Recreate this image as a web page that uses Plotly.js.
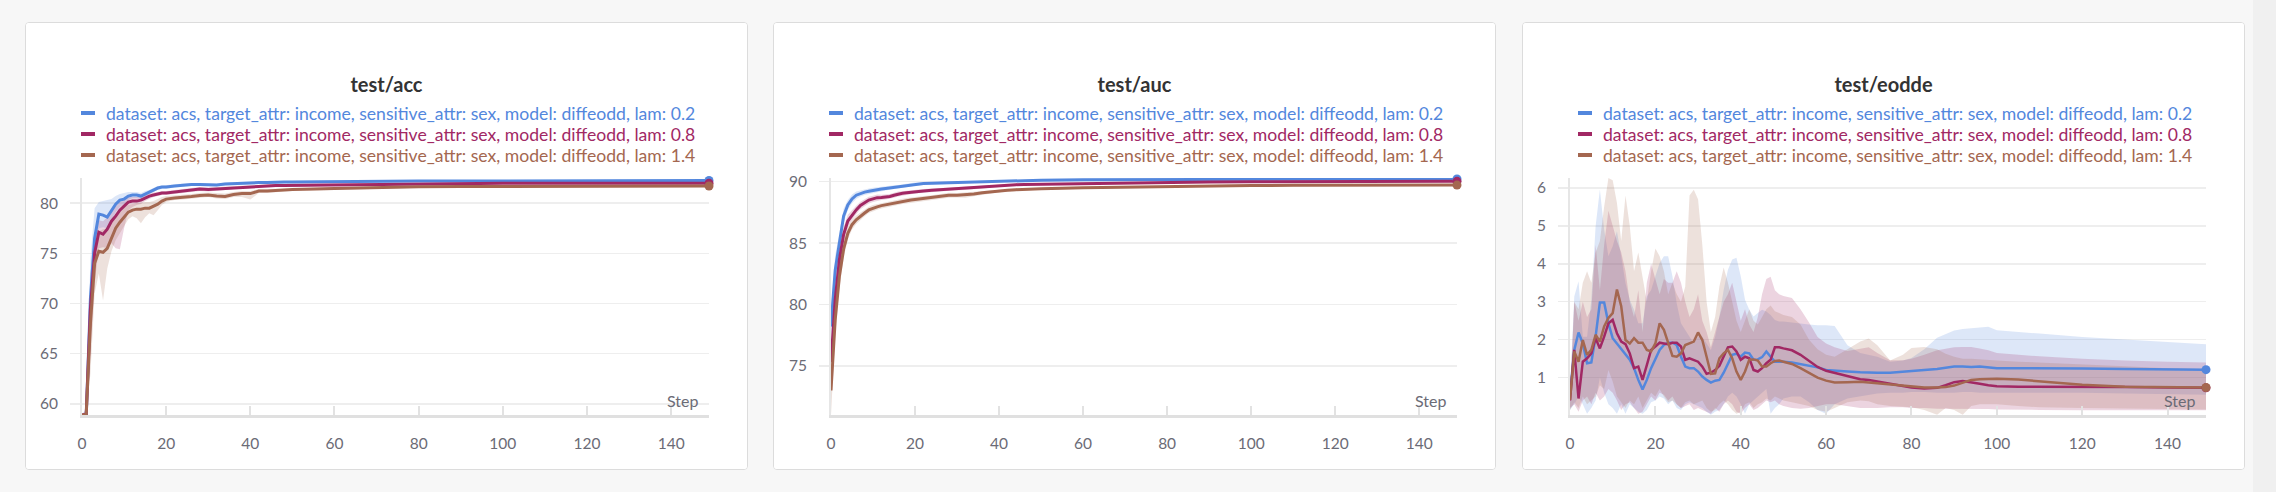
<!DOCTYPE html>
<html>
<head>
<meta charset="utf-8">
<script src="https://cdn.plot.ly/plotly-3.0.1.min.js"></script>
<style>
  html, body { margin: 0; padding: 0; }
  body { width: 2276px; height: 492px; background: #f7f7f7; position: relative; overflow: hidden; }
  .panel {
    position: absolute; top: 22px; width: 721px; height: 446px;
    background: #fff; border: 1px solid #dcdcdc; border-radius: 4px; overflow: hidden;
  }
  .edge { position: absolute; top: 0; left: 2253px; width: 23px; height: 492px; background: #f0f0f0; }
</style>
</head>
<body>
<div class="panel" id="panel-acc" style="left:25px"></div>
<div class="panel" id="panel-auc" style="left:773px"></div>
<div class="panel" id="panel-eodde" style="left:1522px"></div>
<div class="edge"></div>
<script>
// ---- run labels / colours ----
const runLabels = [
  'dataset: acs, target_attr: income, sensitive_attr: sex, model: diffeodd, lam: 0.2',
  'dataset: acs, target_attr: income, sensitive_attr: sex, model: diffeodd, lam: 0.8',
  'dataset: acs, target_attr: income, sensitive_attr: sex, model: diffeodd, lam: 1.4'
];
const runColors = ['#5387DD', '#A12864', '#A46750'];
const runFills = ['rgba(83,135,221,0.2)', 'rgba(161,40,100,0.2)', 'rgba(164,103,80,0.2)'];

// ---- test/acc and test/auc (sampled steps) ----
const curveSteps = [0,1,2,3,4,5,6,7,8,9,10,11,12,13,14,15,16,17,18,19,20,
  22,24,26,28,30,32,34,36,38,40,42,44,46,48,50,
  60,70,80,90,100,110,120,130,140,149];

const accMean02 = [58.6,58.7,70.5,76.5,78.9,78.8,78.6,79.3,79.9,80.3,80.4,80.7,80.8,80.8,80.7,80.9,81.1,81.3,81.5,81.6,81.6,
  81.7,81.8,81.85,81.85,81.8,81.8,81.9,81.95,81.95,82.0,82.05,82.05,82.1,82.1,82.1,
  82.15,82.2,82.2,82.2,82.22,82.23,82.24,82.25,82.25,82.25];
const accLo02 = [58.9,58.9,66.0,73.5,77.5,77.6,77.5,78.3,79.1,79.6,79.9,80.3,80.5,80.5,80.4,80.6,80.9,81.1,81.3,81.4,81.4,
  81.55,81.65,81.7,81.7,81.65,81.65,81.75,81.8,81.82,81.85,81.9,81.92,81.95,81.97,81.98,
  82.05,82.1,82.12,82.13,82.15,82.16,82.17,82.18,82.18,82.18];
const accHi02 = [59.0,59.5,74.5,79.5,80.1,80.2,80.3,80.4,80.7,80.9,81.0,81.1,81.1,81.1,81.0,81.2,81.3,81.5,81.7,81.75,81.8,
  81.85,81.95,82.0,82.0,81.95,81.95,82.05,82.1,82.1,82.15,82.18,82.18,82.22,82.23,82.23,
  82.26,82.3,82.3,82.3,82.3,82.3,82.31,82.32,82.32,82.32];

const accMean08 = [58.9,59.0,69.5,75.0,77.1,76.9,77.4,78.2,78.7,79.3,79.7,80.1,80.2,80.2,80.3,80.5,80.7,80.8,80.9,81.0,81.0,
  81.1,81.2,81.35,81.4,81.35,81.4,81.45,81.55,81.6,81.6,81.7,81.75,81.75,81.75,81.76,
  81.85,81.9,81.95,81.97,81.98,81.98,81.98,81.98,81.98,81.98];
const accLo08 = [58.9,58.9,65.0,72.0,75.5,75.6,75.5,76.0,75.5,75.4,77.5,79.3,79.6,79.8,79.9,80.2,80.4,80.6,80.7,80.8,80.8,
  80.9,81.0,81.15,81.2,81.15,81.2,81.3,81.4,81.45,81.45,81.55,81.6,81.62,81.64,81.65,
  81.75,81.82,81.87,81.9,81.9,81.9,81.9,81.9,81.9,81.9];
const accHi08 = [59.0,59.3,73.0,77.0,78.3,78.2,78.6,79.2,79.7,80.1,80.3,80.6,80.6,80.6,80.6,80.8,80.95,81.05,81.1,81.2,81.2,
  81.3,81.4,81.55,81.6,81.55,81.6,81.65,81.7,81.75,81.75,81.85,81.9,81.9,81.9,81.9,
  81.96,82.0,82.03,82.05,82.06,82.06,82.06,82.06,82.06,82.06];

const accMean14 = [58.9,58.95,68.0,74.0,75.2,75.1,75.5,76.6,77.5,78.1,78.6,79.1,79.3,79.4,79.4,79.5,79.5,79.7,79.9,80.2,80.4,
  80.5,80.55,80.65,80.75,80.8,80.7,80.65,80.85,80.95,80.95,81.2,81.2,81.25,81.3,81.35,
  81.45,81.55,81.62,81.65,81.67,81.68,81.69,81.69,81.7,81.7];
const accLo14 = [58.9,58.9,63.0,71.0,73.0,70.3,73.5,75.2,76.3,77.0,77.6,78.4,78.7,78.5,78.0,78.6,79.0,78.8,79.3,79.8,80.1,
  80.3,80.35,80.45,80.55,80.6,80.45,80.4,80.6,80.6,80.35,81.0,81.0,81.1,81.15,81.2,
  81.33,81.45,81.53,81.57,81.59,81.6,81.61,81.62,81.62,81.62];
const accHi14 = [59.0,59.2,71.0,76.5,77.2,77.4,77.5,78.2,78.9,79.3,79.6,79.8,79.9,80.0,80.0,80.1,80.1,80.2,80.4,80.6,80.7,
  80.75,80.8,80.9,81.0,81.05,81.0,80.95,81.1,81.2,81.2,81.4,81.4,81.42,81.45,81.5,
  81.58,81.66,81.72,81.74,81.76,81.77,81.78,81.78,81.78,81.78];

const aucMean02 = [78.2,82.8,85.0,87.2,88.1,88.6,88.9,89.05,89.15,89.22,89.3,89.35,89.4,89.45,89.5,89.55,89.6,89.65,89.7,89.75,89.8,
  89.85,89.88,89.9,89.92,89.93,89.95,89.98,90.0,90.03,90.05,90.07,90.08,90.1,90.11,90.12,
  90.15,90.17,90.19,90.2,90.2,90.21,90.21,90.22,90.22,90.22];
const aucLo02 = [76.8,81.6,84.2,86.6,87.7,88.25,88.6,88.8,88.92,89.0,89.1,89.17,89.23,89.29,89.34,89.4,89.46,89.51,89.57,89.62,89.67,
  89.74,89.78,89.81,89.84,89.85,89.88,89.91,89.94,89.97,89.99,90.01,90.03,90.05,90.06,90.07,
  90.1,90.12,90.14,90.15,90.15,90.16,90.16,90.17,90.17,90.17];
const aucHi02 = [79.6,84.0,85.8,87.8,88.5,88.95,89.2,89.3,89.38,89.44,89.5,89.53,89.57,89.61,89.66,89.7,89.74,89.79,89.83,89.88,89.93,
  89.96,89.98,89.99,90.0,90.01,90.02,90.05,90.06,90.09,90.11,90.13,90.13,90.15,90.16,90.17,
  90.2,90.22,90.24,90.25,90.25,90.26,90.26,90.27,90.27,90.27];

const aucMean08 = [75.3,80.4,83.65,85.7,86.8,87.3,87.7,88.06,88.3,88.5,88.6,88.7,88.72,88.75,88.8,88.9,89.0,89.05,89.1,89.15,89.2,
  89.25,89.3,89.35,89.4,89.42,89.45,89.5,89.6,89.65,89.7,89.73,89.76,89.78,89.79,89.8,
  89.86,89.92,89.96,89.98,90.0,90.01,90.02,90.02,90.03,90.03];
const aucLo08 = [74.5,79.5,82.9,85.1,86.3,86.9,87.35,87.75,88.0,88.22,88.35,88.45,88.5,88.55,88.6,88.7,88.8,88.87,88.93,88.98,89.03,
  89.1,89.16,89.22,89.28,89.3,89.33,89.39,89.5,89.56,89.62,89.66,89.69,89.71,89.72,89.73,
  89.8,89.86,89.9,89.92,89.94,89.95,89.96,89.96,89.97,89.97];
const aucHi08 = [76.1,81.3,84.4,86.3,87.3,87.7,88.05,88.37,88.6,88.78,88.85,88.95,88.94,88.95,89.0,89.1,89.2,89.23,89.27,89.32,89.37,
  89.4,89.44,89.48,89.52,89.54,89.57,89.61,89.7,89.74,89.78,89.8,89.83,89.85,89.86,89.87,
  89.92,89.98,90.02,90.04,90.06,90.07,90.08,90.08,90.09,90.09];

const aucMean14 = [73.0,78.75,82.3,84.5,85.8,86.5,86.9,87.2,87.45,87.7,87.85,87.95,88.05,88.12,88.2,88.28,88.35,88.4,88.45,88.5,88.55,
  88.63,88.7,88.8,88.9,88.9,88.92,89.0,89.1,89.18,89.25,89.3,89.35,89.38,89.4,89.42,
  89.5,89.56,89.62,89.66,89.68,89.7,89.71,89.72,89.72,89.72];
const aucLo14 = [71.0,77.5,81.3,83.8,85.3,86.1,86.55,86.9,87.18,87.45,87.6,87.72,87.82,87.9,87.98,88.06,88.13,88.18,88.23,88.28,88.33,
  88.42,88.5,88.6,88.7,88.72,88.7,88.82,88.94,89.05,89.13,89.2,89.25,89.29,89.32,89.34,
  89.43,89.5,89.56,89.6,89.62,89.64,89.65,89.66,89.66,89.66];
const aucHi14 = [74.5,79.8,83.2,85.2,86.3,86.9,87.25,87.5,87.72,87.95,88.1,88.18,88.28,88.34,88.42,88.5,88.57,88.62,88.67,88.72,88.77,
  88.84,88.9,89.0,89.1,89.08,89.14,89.18,89.26,89.31,89.37,89.4,89.45,89.47,89.48,89.5,
  89.57,89.62,89.68,89.72,89.74,89.76,89.77,89.78,89.78,89.78];

// ---- test/eodde (every step early, sparser later) ----
const eoddeSteps = [0,1,2,3,4,5,6,7,8,9,10,11,12,13,14,15,16,17,18,19,20,21,22,23,24,25,26,27,28,29,
  30,31,32,33,34,35,36,37,38,39,40,41,42,43,44,45,46,47,48,49,50,
  52,54,56,58,60,62,65,68,70,72,75,78,80,83,86,88,90,92,94,96,98,100,105,110,120,130,140,149];

const eoddeMean02 = [0.55,1.73,2.19,1.90,1.38,1.40,2.08,2.98,2.98,2.43,2.04,1.90,1.77,1.64,1.47,1.25,0.94,0.69,0.94,1.25,
  1.51,1.73,1.86,1.92,1.92,1.86,1.55,1.29,1.25,1.25,1.16,1.03,0.94,0.87,0.92,0.94,1.13,1.38,1.60,1.63,
  1.55,1.66,1.64,1.47,1.48,1.54,1.69,1.55,1.42,1.42,1.42,
  1.40,1.36,1.31,1.27,1.20,1.18,1.16,1.14,1.13,1.13,1.13,1.15,1.17,1.20,1.23,1.26,1.29,1.29,1.28,1.29,1.27,1.25,1.25,1.25,1.24,1.23,1.21,1.21];
const eoddeLo02 = [0.15,0.3,0.5,0.3,0.05,0.2,0.4,1.0,0.6,0.3,0.2,0.05,0.3,0.05,0.3,0.2,0.1,0.05,0.15,0.35,
  0.4,0.5,0.45,0.3,0.4,0.2,0.15,0.3,0.35,0.3,0.25,0.2,0.1,0.02,0.1,0.15,0.3,0.5,0.6,0.5,
  0.3,0.05,0.3,0.4,0.5,0.6,0.7,0.05,0.2,0.3,0.45,
  0.5,0.5,0.35,0.15,0.05,0.3,0.45,0.5,0.55,0.58,0.6,0.6,0.62,0.62,0.6,0.6,0.6,0.62,0.62,0.6,0.6,0.6,0.6,0.6,0.6,0.58,0.56,0.55];
const eoddeHi02 = [0.7,3.14,3.54,2.08,2.08,3.05,4.99,5.96,4.9,4.2,4.46,4.86,4.2,3.49,3.05,2.79,2.43,2.43,3.14,3.31,
  3.67,4.02,4.2,4.2,3.67,2.96,2.43,2.26,2.08,1.9,2.08,2.08,1.9,1.73,2.08,2.61,3.31,3.84,4.11,4.16,
  3.67,3.05,2.79,2.61,2.7,2.79,2.74,2.65,2.52,2.48,2.48,
  2.45,2.42,2.4,2.38,2.38,2.36,1.85,1.65,1.6,1.55,1.42,1.45,1.52,1.75,2.05,2.15,2.24,2.28,2.3,2.33,2.34,2.25,2.2,2.16,2.07,2.0,1.94,1.88];

const eoddeMean08 = [0.40,1.73,0.45,1.42,1.51,1.64,2.04,1.77,2.08,2.43,2.52,2.17,1.95,1.88,1.64,1.25,1.29,0.94,1.33,1.73,
  1.82,1.92,1.90,1.88,1.92,1.92,1.82,1.47,1.51,1.47,1.42,1.29,1.10,1.13,1.20,1.31,1.55,1.80,1.82,1.69,
  1.47,1.55,1.51,1.20,1.16,1.25,1.38,1.47,1.80,1.80,1.77,
  1.72,1.60,1.45,1.28,1.18,1.12,1.03,0.96,0.94,0.90,0.83,0.77,0.74,0.71,0.73,0.80,0.88,0.91,0.88,0.84,0.80,0.77,0.76,0.76,0.75,0.75,0.74,0.73];
const eoddeLo08 = [0.2,0.3,0.1,0.4,0.5,0.3,0.6,0.4,0.5,0.7,0.6,0.4,0.15,0.3,0.35,0.2,0.05,0.1,0.3,0.5,
  0.4,0.6,0.55,0.4,0.5,0.3,0.2,0.25,0.3,0.15,0.2,0.15,0.1,0.05,0.2,0.1,0.3,0.4,0.3,0.1,
  0.05,0.2,0.3,0.15,0.2,0.3,0.4,0.35,0.4,0.3,0.25,
  0.2,0.18,0.2,0.25,0.3,0.3,0.25,0.2,0.2,0.2,0.22,0.22,0.2,0.2,0.18,0.18,0.18,0.18,0.17,0.17,0.17,0.16,0.15,0.15,0.14,0.14,0.14,0.14];
const eoddeHi08 = [0.5,3.0,2.5,3.0,2.6,2.8,4.5,3.3,4.5,5.4,5.0,4.6,4.3,3.8,3.0,2.6,3.3,2.2,3.5,4.0,
  3.6,3.2,3.6,3.5,3.5,3.8,3.5,3.0,2.6,2.8,3.2,2.5,2.2,1.8,2.2,2.6,3.0,3.2,3.5,3.0,
  2.5,2.8,2.4,2.2,2.6,3.2,3.6,3.66,3.3,3.2,3.15,
  3.1,2.8,2.45,2.07,1.9,1.8,1.7,1.75,1.8,1.65,1.46,1.46,1.5,1.6,1.72,1.76,1.8,1.81,1.81,1.77,1.72,1.65,1.6,1.56,1.5,1.45,1.42,1.4];

const eoddeMean14 = [0.41,1.69,1.42,1.99,1.60,1.73,2.13,1.95,2.35,2.57,2.70,3.32,2.88,1.99,1.90,2.04,1.92,1.92,1.73,1.69,
  1.90,2.43,2.26,1.90,1.57,1.55,1.64,1.86,1.90,1.95,2.19,1.99,1.55,1.10,1.11,1.51,1.64,1.73,1.51,1.16,
  0.94,1.16,1.47,1.48,1.45,1.29,1.29,1.38,1.44,1.45,1.42,
  1.36,1.25,1.12,1.00,0.92,0.87,0.88,0.89,0.87,0.85,0.82,0.78,0.76,0.74,0.74,0.75,0.79,0.86,0.94,0.96,0.97,0.97,0.95,0.90,0.81,0.76,0.74,0.74];
const eoddeLo14 = [0.15,0.35,0.2,0.5,0.3,0.4,0.5,0.8,0.7,1.2,0.9,0.5,0.35,0.2,0.4,0.3,0.5,0.2,0.4,0.6,
  0.5,0.7,0.5,0.35,0.4,0.3,0.2,0.35,0.4,0.3,0.35,0.4,0.2,0.1,0.15,0.3,0.4,0.3,0.15,0.05,
  0.1,0.3,0.35,0.2,0.3,0.35,0.45,0.4,0.5,0.45,0.4,
  0.35,0.3,0.25,0.15,0.1,0.2,0.35,0.4,0.38,0.3,0.25,0.23,0.22,0.15,0.02,0.2,0.15,0.02,0.25,0.3,0.3,0.3,0.25,0.22,0.2,0.18,0.17,0.16];
const eoddeHi14 = [0.45,3.0,2.8,3.5,3.8,3.5,4.3,4.6,5.5,6.26,6.2,5.6,4.6,5.8,5.0,3.8,4.3,3.6,3.0,3.8,
  4.4,4.2,3.8,3.2,3.5,3.2,3.0,3.4,5.8,5.95,5.7,4.5,3.0,2.2,2.6,3.4,3.9,3.5,3.0,2.5,
  2.2,2.5,2.8,2.5,2.4,2.6,2.8,2.9,2.75,2.7,2.65,
  2.6,2.4,2.0,1.75,1.6,1.55,1.75,1.95,2.03,1.85,1.45,1.6,1.78,1.81,1.75,1.63,1.55,1.5,1.5,1.48,1.46,1.45,1.42,1.4,1.35,1.3,1.25,1.22];

// ---- layout constants ----
const W = 721, H = 446;
const FONT = 'Lato, "Open Sans", sans-serif';
const TICK_COLOR = '#6b6b76';

const panels = [
  { id: 'panel-acc', title: 'test/acc', steps: curveSteps, yRange: [58.9, 82.5], dtick: 5, lineWidth: 3,
    margin: { l: 56, r: 38, t: 155, b: 54 },
    runs: [[accMean02, accLo02, accHi02], [accMean08, accLo08, accHi08], [accMean14, accLo14, accHi14]] },
  { id: 'panel-auc', title: 'test/auc', steps: curveSteps, yRange: [71.0, 90.3], dtick: 5, lineWidth: 3,
    margin: { l: 57, r: 38, t: 155, b: 54 },
    runs: [[aucMean02, aucLo02, aucHi02], [aucMean08, aucLo08, aucHi08], [aucMean14, aucLo14, aucHi14]] },
  { id: 'panel-eodde', title: 'test/eodde', steps: eoddeSteps, yRange: [0.015, 6.26], dtick: 1, lineWidth: 2.5,
    margin: { l: 47, r: 38, t: 155, b: 54 },
    runs: [[eoddeMean02, eoddeLo02, eoddeHi02], [eoddeMean08, eoddeLo08, eoddeHi08], [eoddeMean14, eoddeLo14, eoddeHi14]] }
];

// pixel position inside the panel -> paper fraction
function toPaper(m, xPx, yPx) {
  const pw = W - m.l - m.r, ph = H - m.t - m.b;
  return { x: (xPx - m.l) / pw, y: 1 - (yPx - m.t) / ph };
}

function drawPanel(p) {
  const traces = [];

  // shaded min/max bands first
  p.runs.forEach(([mean, lo, hi], i) => {
    traces.push({ x: p.steps, y: lo, type: 'scatter', mode: 'lines',
      line: { width: 0, color: runColors[i] }, showlegend: false, hoverinfo: 'skip' });
    traces.push({ x: p.steps, y: hi, type: 'scatter', mode: 'lines', fill: 'tonexty',
      fillcolor: runFills[i], line: { width: 0, color: runColors[i] }, showlegend: false, hoverinfo: 'skip' });
  });

  // mean lines
  p.runs.forEach(([mean], i) => {
    traces.push({ x: p.steps, y: mean, type: 'scatter', mode: 'lines', name: runLabels[i],
      line: { width: p.lineWidth, color: runColors[i] }, showlegend: false });
  });

  // last-point dots
  p.runs.forEach(([mean], i) => {
    traces.push({ x: [p.steps[p.steps.length - 1]], y: [mean[mean.length - 1]], type: 'scatter', mode: 'markers',
      marker: { size: 9, color: runColors[i] }, cliponaxis: false, showlegend: false });
  });

  // legend drawn by hand: short swatch + coloured text
  const legendRows = [90, 111, 132];
  const shapes = [];
  const annotations = [];
  runLabels.forEach((label, i) => {
    const a = toPaper(p.margin, 55, legendRows[i]);
    const b = toPaper(p.margin, 69, legendRows[i]);
    shapes.push({ type: 'line', xref: 'paper', yref: 'paper', x0: a.x, x1: b.x, y0: a.y, y1: a.y,
      line: { color: runColors[i], width: 4 } });
    const t = toPaper(p.margin, 78, legendRows[i]);
    annotations.push({ xref: 'paper', yref: 'paper', x: t.x, y: t.y, xanchor: 'left', yanchor: 'middle',
      text: label, showarrow: false, font: { family: FONT, size: 17.6, color: runColors[i] } });
  });

  annotations.push({ xref: 'paper', yref: 'paper', x: 1, y: 0, xanchor: 'right', yanchor: 'bottom',
    xshift: -9, yshift: 3, text: 'Step', showarrow: false, font: { family: FONT, size: 16, color: TICK_COLOR } });

  const layout = {
    width: W, height: H,
    margin: p.margin,
    paper_bgcolor: '#ffffff', plot_bgcolor: '#ffffff',
    font: { family: FONT, color: TICK_COLOR },
    title: { text: p.title, x: 0.5, xanchor: 'center', xref: 'container',
      y: 1 - 62 / H, yanchor: 'middle', yref: 'container',
      font: { family: FONT, size: 20, color: '#333333', weight: 'bold' } },
    showlegend: false,
    xaxis: {
      range: [0, 149], tick0: 0, dtick: 20,
      ticks: 'inside', ticklen: 9, tickwidth: 2, tickcolor: '#e2e2e2',
      showline: true, linecolor: '#e0e0e0', linewidth: 3,
      showgrid: false, zeroline: false,
      ticklabelstandoff: 12,
      tickfont: { family: FONT, size: 15.5, color: TICK_COLOR }
    },
    yaxis: {
      range: p.yRange, dtick: p.dtick, tick0: 0,
      ticks: 'outside', ticklen: 10, tickwidth: 1.5, tickcolor: '#ececec',
      showline: true, linecolor: '#e6e6e6', linewidth: 2,
      showgrid: true, gridcolor: '#eeeeee', gridwidth: 1.5, zeroline: false,
      ticklabelstandoff: 9,
      tickfont: { family: FONT, size: 15.5, color: TICK_COLOR }
    },
    shapes: shapes,
    annotations: annotations
  };

  Plotly.newPlot(p.id, traces, layout, { staticPlot: true, displayModeBar: false });
}

panels.forEach(drawPanel);
</script>
</body>
</html>
